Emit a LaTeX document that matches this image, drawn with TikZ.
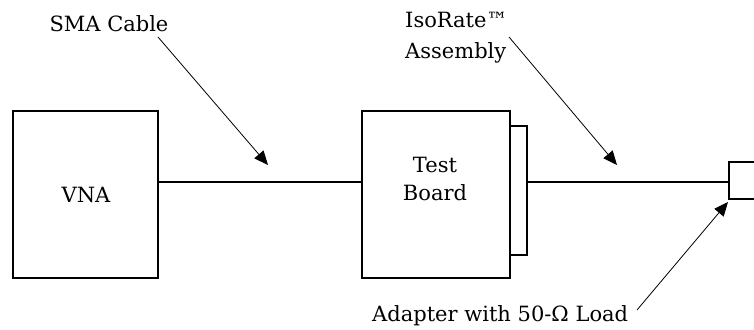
\documentclass[tikz,border=0pt]{standalone}
\usepackage{fontspec}
\setmainfont{DejaVu Serif}
\usetikzlibrary{arrows.meta}
\begin{document}
\begin{tikzpicture}[x=1pt,y=1pt,
  box/.style={draw,line width=1.2pt,rectangle,inner sep=0pt},
  lbl/.style={font=\fontsize{21}{28}\selectfont,inner sep=0pt},
  cable/.style={line width=1.2pt},
  pointer/.style={line width=0.8pt,-{Triangle[length=14pt,width=12pt]}}]
\useasboundingbox (0,0) rectangle (754,329);
\clip (0,0) rectangle (754,329);
% boxes
\node[box,minimum width=145pt,minimum height=167pt] (vna) at (85.5,134.5) {};
\node[lbl] (vnat) at (86,134) {VNA};
\node[box,minimum width=148pt,minimum height=167pt] (tb) at (436,134.5) {};
\node[lbl,align=center] (tbt) at (435,150) {Test\\Board};
\node[box,minimum width=17pt,minimum height=129pt] (tab) at (518.5,138.5) {};
\node[box,minimum width=40pt,minimum height=37pt] (adp) at (749,148.5) {};
% cables
\coordinate (c1) at (0,147);
\draw[cable] (vna.east |- c1) -- (tb.west |- c1);
\draw[cable] (tab.east |- c1) -- (adp.west |- c1);
% labels
\node[lbl] (sma) at (109,305) {SMA Cable};
\node[lbl,font=\fontsize{21}{31}\selectfont,align=left,anchor=west] (iso) at (405,291.5) {IsoRate™\\Assembly};
\node[lbl,anchor=west] (ad) at (372,13) {Adapter with 50-Ω Load};
% pointers
\coordinate (s1) at (158,292);
\coordinate (s2) at (268,164);
\coordinate (i1) at (509,292);
\coordinate (i2) at (617,164);
\coordinate (a1) at (637,19);
\coordinate (a2) at (728,127);
\draw[pointer] (s1) -- (s2);
\draw[pointer] (i1) -- (i2);
\draw[pointer] (a1) -- (a2);
\end{tikzpicture}
\end{document}
